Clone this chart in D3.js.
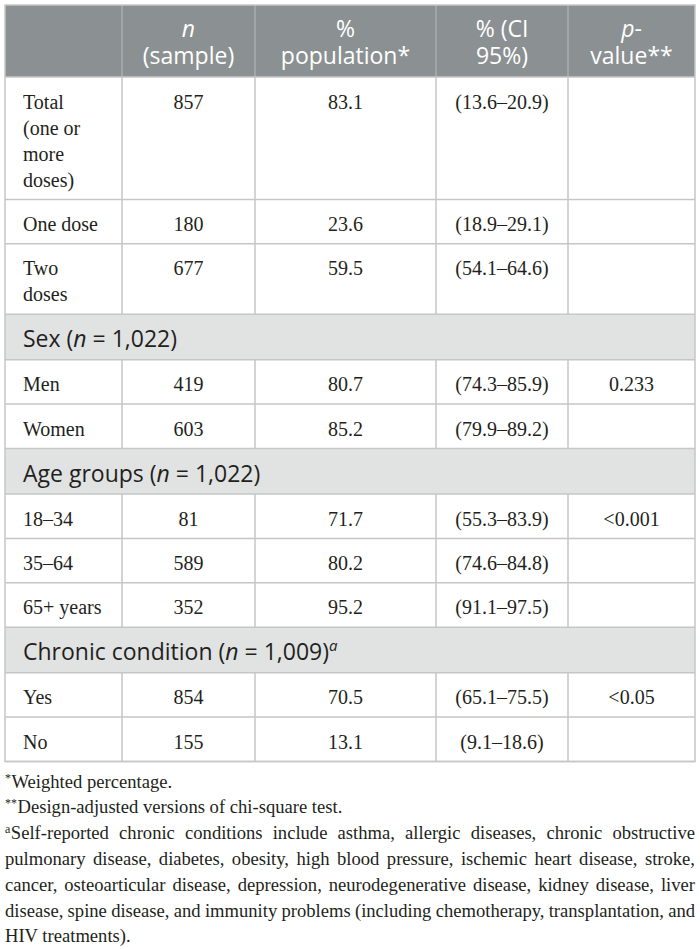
<!DOCTYPE html>
<html>
<head>
<meta charset="utf-8">
<script src="https://cdn.jsdelivr.net/npm/d3@7/dist/d3.min.js"></script>
<style>
  html, body { margin: 0; padding: 0; background: #fff; }
  svg { display: block; }
</style>
</head>
<body>
<svg id="chart" width="700" height="949"></svg>
<script>
// ---------------- DATA ----------------
const categories = ["Total (one or more doses)", "One dose", "Two doses", "Men", "Women", "18–34", "35–64", "65+ years", "Yes", "No"];
const rowGroup   = [0, 0, 0, 1, 1, 2, 2, 2, 3, 3];
const nSample    = [857, 180, 677, 419, 603, 81, 589, 352, 854, 155];
const pctPop     = [83.1, 23.6, 59.5, 80.7, 85.2, 71.7, 80.2, 95.2, 70.5, 13.1];
const ciLow      = [13.6, 18.9, 54.1, 74.3, 79.9, 55.3, 74.6, 91.1, 65.1, 9.1];
const ciHigh     = [20.9, 29.1, 64.6, 85.9, 89.2, 83.9, 84.8, 97.5, 75.5, 18.6];
const pValue     = ["", "", "", "0.233", "", "<0.001", "", "", "<0.05", ""];

const groupNames = [null, "Sex", "Age groups", "Chronic condition"];
const groupN     = [null, "1,022", "1,022", "1,009"];
const groupMark  = [null, "", "", "a"];

// header: [text, italic] segments per line
const headers = [
  [[["n", true]], [["(sample)", false]]],
  [[["%", false]], [["population*", false]]],
  [[["% (CI", false]], [["95%)", false]]],
  [[["p", true], ["-", false]], [["value**", false]]]
];

const footnotes = [
  { sup: "*",  text: "Weighted percentage.", justify: false },
  { sup: "**", text: "Design-adjusted versions of chi-square test.", justify: false },
  { sup: "a",  text: "Self-reported chronic conditions include asthma, allergic diseases, chronic obstructive", justify: true },
  { sup: "",   text: "pulmonary disease, diabetes, obesity, high blood pressure, ischemic heart disease, stroke,", justify: true },
  { sup: "",   text: "cancer, osteoarticular disease, depression, neurodegenerative disease, kidney disease, liver", justify: true },
  { sup: "",   text: "disease, spine disease, and immunity problems (including chemotherapy, transplantation, and", justify: true },
  { sup: "",   text: "HIV treatments).", justify: false }
];

// ---------------- LAYOUT ----------------
const tLeft = 5, tRight = 695, tTop = 5;
const colWeights = [117, 133, 181, 132, 127];
const xs = d3.scaleLinear().domain([0, d3.sum(colWeights)]).range([tLeft, tRight]);
const colEdges = [0, ...d3.cumsum(colWeights)].map(xs);

const SANS = "'Open Sans', 'Noto Sans', sans-serif";
const SERIF = "'Liberation Serif', 'DejaVu Serif', serif";
const bodySize = 20, headSize = 23, footSize = 18.6;
const lineGap = 26;
const headerH = 72;
const singleH = 44.4;
const bandH = 45.5;
const gridColor = "#c6c6c6";
const headFill = "#8b9192";
const bandFill = "#e1e3e3";
const textColor = "#231f20";

const svg = d3.select("#chart");

// measure helper
const meas = svg.append("text").attr("font-family", SERIF).attr("font-size", bodySize).attr("visibility", "hidden");
function textW(s, fam, size) {
  meas.attr("font-family", fam).attr("font-size", size).text(s);
  return meas.node().getComputedTextLength();
}
// wrap first-column labels to column width
const padL = 18;
const wrapMax = (colEdges[1] - colEdges[0]) - 2 * padL;
function wrap(s) {
  const words = s.split(" ");
  const lines = [];
  let cur = "";
  words.forEach(w => {
    const t = cur ? cur + " " + w : w;
    if (cur && textW(t, SERIF, bodySize) > wrapMax) { lines.push(cur); cur = w; }
    else cur = t;
  });
  if (cur) lines.push(cur);
  return lines;
}

// build row list (bands + data rows)
const rows = [];
categories.forEach((c, i) => {
  const g = rowGroup[i];
  if (i > 0 && g !== rowGroup[i - 1] && groupNames[g]) {
    rows.push({ type: "band", g, h: bandH });
  }
  const lines = wrap(c);
  rows.push({ type: "data", i, lines, h: singleH + lineGap * (lines.length - 1) });
});
let yCur = tTop + headerH;
rows.forEach(r => { r.y0 = yCur; yCur += r.h; r.y1 = yCur; });
const tableBottom = yCur;

// ---------------- HEADER ----------------
svg.append("rect").attr("x", tLeft).attr("y", tTop).attr("width", tRight - tLeft).attr("height", headerH)
  .attr("fill", headFill);

const headG = svg.append("g");
headers.forEach((hlines, k) => {
  const ci = k + 1;
  const cx = (colEdges[ci] + colEdges[ci + 1]) / 2;
  hlines.forEach((segs, li) => {
    const t = headG.append("text")
      .attr("x", cx).attr("y", tTop + 32 + li * 27)
      .attr("text-anchor", "middle")
      .attr("font-family", SANS).attr("font-size", headSize)
      .attr("fill", "#ffffff");
    segs.forEach(([s, it]) => {
      t.append("tspan").attr("font-style", it ? "italic" : "normal").text(s);
    });
  });
});

// ---------------- BANDS ----------------
rows.filter(r => r.type === "band").forEach(r => {
  svg.append("rect").attr("x", tLeft).attr("y", r.y0).attr("width", tRight - tLeft).attr("height", r.h)
    .attr("fill", bandFill);
  const t = svg.append("text").attr("x", tLeft + padL).attr("y", r.y0 + 33)
    .attr("font-family", SANS).attr("font-size", headSize).attr("fill", textColor);
  t.append("tspan").text(groupNames[r.g] + " (");
  t.append("tspan").attr("font-style", "italic").text("n");
  t.append("tspan").text(" = " + groupN[r.g] + ")");
  if (groupMark[r.g]) {
    t.append("tspan").attr("font-style", "italic").attr("font-size", 15).attr("dy", -9).text(groupMark[r.g]);
  }
});

// ---------------- DATA CELLS ----------------
const fmt1 = d3.format(".1f");
rows.filter(r => r.type === "data").forEach(r => {
  const i = r.i;
  const base = r.y0 + 31.5;
  r.lines.forEach((ln, li) => {
    svg.append("text").attr("x", colEdges[0] + padL).attr("y", base + li * lineGap)
      .attr("font-family", SERIF).attr("font-size", bodySize).attr("fill", textColor).text(ln);
  });
  const vals = [String(nSample[i]), fmt1(pctPop[i]), "(" + fmt1(ciLow[i]) + "–" + fmt1(ciHigh[i]) + ")", pValue[i]];
  vals.forEach((v, k) => {
    if (!v) return;
    const ci = k + 1;
    svg.append("text").attr("x", (colEdges[ci] + colEdges[ci + 1]) / 2).attr("y", base)
      .attr("text-anchor", "middle")
      .attr("font-family", SERIF).attr("font-size", bodySize).attr("fill", textColor).text(v);
  });
});

// ---------------- GRID LINES ----------------
const grid = svg.append("g").attr("stroke-width", 1.5).attr("fill", "none");
colEdges.slice(1, 5).forEach(x => {
  grid.append("line").attr("x1", x).attr("x2", x).attr("y1", tTop).attr("y2", tTop + headerH)
    .attr("stroke", "#a9aeaf");
});
rows.filter(r => r.type === "data").forEach(r => {
  colEdges.slice(1, 5).forEach(x => {
    grid.append("line").attr("x1", x).attr("x2", x).attr("y1", r.y0).attr("y2", r.y1).attr("stroke", gridColor);
  });
});
[tTop + headerH, ...rows.map(r => r.y1)].forEach(y => {
  grid.append("line").attr("x1", tLeft).attr("x2", tRight).attr("y1", y).attr("y2", y).attr("stroke", gridColor);
});
grid.append("rect").attr("x", tLeft).attr("y", tTop).attr("width", tRight - tLeft).attr("height", tableBottom - tTop)
  .attr("stroke", gridColor);

// ---------------- FOOTNOTES ----------------
const footBase0 = tableBottom + 26;
const footGap = 25.8;
footnotes.forEach((f, li) => {
  const y = footBase0 + li * footGap;
  const g = svg.append("g").attr("font-family", SERIF).attr("font-size", footSize).attr("fill", textColor);
  let x0 = tLeft;
  if (f.sup) {
    const st = g.append("text").attr("x", x0).attr("y", y - 6).attr("font-size", 12).text(f.sup);
    x0 += st.node().getComputedTextLength() + 0.5;
  }
  if (!f.justify) {
    g.append("text").attr("x", x0).attr("y", y).text(f.text);
    return;
  }
  const words = f.text.split(" ");
  const widths = words.map(w => textW(w, SERIF, footSize));
  const avail = tRight - x0;
  let gap = (avail - d3.sum(widths)) / (words.length - 1);
  let sx = 1;
  if (gap < 3) { gap = 3; sx = avail / (d3.sum(widths) + gap * (words.length - 1)); }
  const t = g.append("text").attr("transform", `translate(${x0},0) scale(${sx},1)`);
  let xc = 0;
  words.forEach((w, wi) => {
    t.append("tspan").attr("x", xc).attr("y", y).text(w);
    xc += widths[wi] + gap;
  });
});
meas.remove();
</script>
</body>
</html>
